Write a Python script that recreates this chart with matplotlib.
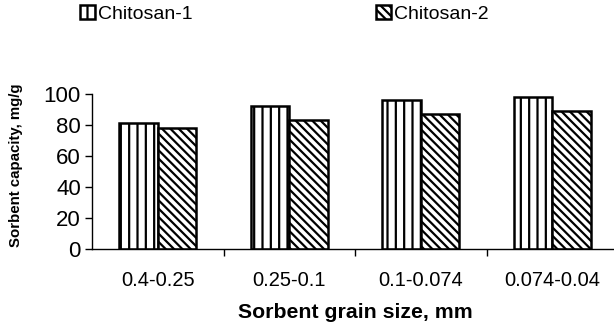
import matplotlib
matplotlib.use("Agg")
import matplotlib.pyplot as plt
import numpy as np

categories = ["0.4-0.25", "0.25-0.1", "0.1-0.074", "0.074-0.04"]
chitosan1 = [81, 92, 96, 98]
chitosan2 = [78, 83, 87, 89]
series_names = ["Chitosan-1", "Chitosan-2"]
yticks = [0, 20, 40, 60, 80, 100]

plt.rcParams['font.family'] = ['Liberation Sans', 'DejaVu Sans']
plt.rcParams['hatch.linewidth'] = 1.6

W, H = 614, 333
fig = plt.figure(figsize=(W/100, H/100), dpi=100)
ax = fig.add_axes([92/W, 1-249/H, 526/W, 155/H])

x = np.arange(len(categories))
bw = 0.293
b1 = ax.bar(x - bw/2, chitosan1, bw, color='white', edgecolor='black', linewidth=1.8, hatch='||', label=series_names[0])
b2 = ax.bar(x + bw/2, chitosan2, bw, color='white', edgecolor='black', linewidth=1.8, hatch='\\\\\\\\', label=series_names[1])

ax.set_xlim(-0.5, len(categories) - 0.5)
ax.set_ylim(0, 100)
ax.set_yticks(yticks)
ax.set_xticks(x)
ax.set_xticklabels(categories, fontsize=14.5)
ax.set_xticks(np.arange(0.5, len(categories) - 0.5, 1), minor=True)
ax.tick_params(axis='x', which='major', length=0, pad=16)
ax.tick_params(axis='x', which='minor', length=5, direction='out', width=1)
ax.tick_params(axis='y', labelsize=16, length=5, width=1, pad=3)
for s in ['top', 'right']:
    ax.spines[s].set_visible(False)
ax.spines['left'].set_linewidth(1)
ax.spines['bottom'].set_linewidth(1)

ax.set_xlabel("Sorbent grain size, mm", fontsize=15.3, fontweight='bold', labelpad=9)
ax.set_ylabel("Sorbent capacity, mg/g", fontsize=10.8, fontweight='bold')
ax.yaxis.set_label_coords(-(92-23)/526, 0.54)

for h, xpos in [(b1, 80), (b2, 376)]:
    fig.legend(handles=[h], loc='center left', bbox_to_anchor=(xpos/W, 1-14/H),
               frameon=False, fontsize=14, handlelength=0.75, handleheight=0.72,
               handletextpad=0.2, borderaxespad=0, borderpad=0)

fig.savefig("out.png", dpi=100)
